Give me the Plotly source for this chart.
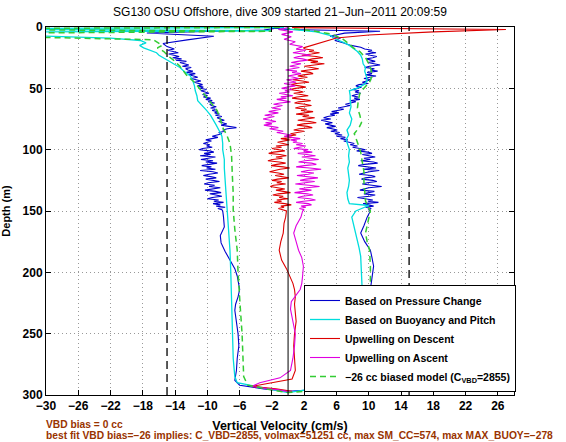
import plotly.graph_objects as go

# ---------------- data ----------------
x_ticks = [-30, -26, -22, -18, -14, -10, -6, -2, 2, 6, 10, 14, 18, 22, 26]
y_ticks = [0, 50, 100, 150, 200, 250, 300]
bias_limits = [-15, 15]      # dashed reference lines (cm/s)
zero_line = [0]              # solid reference line (cm/s)

# common depth samples (m) of the noisy (upper) part of the dive
z_noisy = [18, 19, 20, 21, 22, 23, 24, 25, 26, 27,
           28, 29, 30, 31, 32, 33, 34, 35, 36, 37,
           38, 39, 40, 41, 42, 43, 44, 45, 46, 47,
           48, 49, 50, 51, 52, 53, 54, 55, 56, 57,
           58, 59, 60, 61, 62, 63, 64, 65, 66, 67,
           68, 69, 70, 71, 72, 73, 74, 75, 76, 77,
           78, 79, 80, 81, 82, 83, 84, 85, 86, 87,
           88, 89, 90, 91, 92, 93, 94, 95, 96, 97,
           98, 99, 100, 101, 102, 103, 104, 105, 106, 107,
           108, 109, 110, 111, 112, 113, 114, 115, 116, 117,
           118, 119, 120, 121, 122, 123, 124, 125, 126, 127,
           128, 129, 130, 131, 132, 133, 134, 135, 136, 137,
           138, 139, 140, 141, 142, 143, 144, 145, 146, 147,
           148, 149, 150]

# Based on pressure change (blue) - descent
blue_desc_top_d = [0.5, 2.5, 4.9, 7.6, 10.5, 13.5, 16]
blue_desc_top_v = [-1.0, -3.0, -17.5, -9.2, -12.5, -15.5, -15.0]
blue_desc_mid_v = [-14.1, -14.9, -14.4, -13.6, -14.8, -14.0, -13.5, -14.3, -13.2, -13.9,
                   -12.6, -13.4, -12.9, -12.3, -13.1, -12.0, -12.7, -12.4, -11.8, -12.6,
                   -11.5, -12.3, -11.7, -11.2, -12.0, -11.4, -10.8, -11.6, -11.1, -10.6,
                   -11.2, -10.5, -10.9, -10.1, -10.8, -10.4, -9.8, -10.6, -10.0, -10.5,
                   -9.6, -10.2, -9.4, -9.9, -9.1, -9.7, -9.5, -8.9, -9.6, -9.0,
                   -9.4, -8.7, -9.1, -8.5, -9.0, -8.2, -8.8, -8.4, -7.9, -8.6,
                   -8.0, -7.6, -8.3, -7.2, -6.4, -7.5, -8.1, -7.8, -8.6, -8.2,
                   -8.9, -9.4, -8.7, -9.6, -10.2, -9.5, -10.0, -10.5, -9.7, -10.1,
                   -9.4, -10.6, -11.0, -9.7, -9.2, -10.4, -9.6, -10.9, -9.0, -10.0,
                   -10.8, -9.3, -10.2, -8.8, -9.9, -10.7, -9.5, -10.1, -9.0, -10.9,
                   -9.3, -8.7, -9.8, -10.5, -9.6, -8.9, -10.2, -9.4, -8.5, -9.9,
                   -10.4, -9.1, -9.8, -8.4, -9.5, -10.3, -9.0, -8.3, -9.7, -9.1,
                   -8.2, -9.4, -10.0, -8.6, -9.2, -8.0, -9.3, -8.4, -8.9, -7.8,
                   -8.7, -8.2, -8.1]
blue_desc_deep_d = [155, 163, 170, 176, 183, 190, 197, 203, 209, 214, 220, 226, 231, 240,
                    250, 260, 270, 280, 288, 292, 295, 297]
blue_desc_deep_v = [-8.0, -7.9, -8.4, -8.3, -7.8, -7.2, -6.6, -6.3, -6.1, -6.0, -6.2, -6.5,
                    -6.6, -6.4, -6.2, -6.1, -6.3, -6.4, -6.6, -6.0, -3.0, 0.0]
# Based on pressure change (blue) - ascent
blue_asc_top_d = [0.8, 2.0, 3.5, 5, 7.6, 9, 11, 13, 15, 16.5]
blue_asc_top_v = [-2.0, 0.0, 11.4, 7.0, 5.2, 6.5, 5.8, 6.9, 7.8, 9.0]
blue_asc_mid_v = [9.5, 10.4, 9.9, 10.9, 9.6, 10.2, 11.0, 10.5, 9.7, 10.3,
                  10.8, 9.9, 10.6, 11.4, 10.1, 9.5, 10.7, 10.2, 11.1, 9.8,
                  10.4, 9.6, 10.9, 10.0, 9.4, 10.3, 9.7, 9.2, 9.9, 8.8,
                  8.4, 9.1, 8.6, 8.0, 8.8, 8.3, 9.0, 8.5, 7.9, 8.7,
                  8.2, 8.9, 7.8, 8.4, 7.6, 7.1, 7.7, 6.8, 6.2, 6.9,
                  6.0, 5.4, 6.3, 5.2, 5.8, 4.9, 4.4, 5.3, 4.1, 4.7,
                  5.5, 4.6, 5.0, 5.9, 4.8, 5.6, 6.1, 5.3, 6.4, 5.8,
                  6.7, 6.0, 7.1, 6.5, 7.4, 6.9, 7.6, 8.2, 7.7, 8.6,
                  8.0, 8.9, 9.6, 8.5, 9.9, 10.4, 9.2, 9.7, 10.8, 9.4,
                  10.2, 9.0, 10.6, 11.1, 9.5, 8.7, 10.0, 10.9, 9.3, 11.3,
                  10.1, 9.4, 8.8, 10.3, 10.8, 9.6, 9.1, 10.5, 11.0, 9.8,
                  9.2, 10.4, 11.6, 10.0, 9.5, 8.9, 10.7, 10.2, 9.4, 10.8,
                  10.1, 8.6, 9.7, 10.5, 9.9, 11.2, 9.3, 10.0, 10.6, 9.6,
                  10.3, 10.0, 10.2]
blue_asc_deep_d = [155, 162, 168, 175, 182, 188, 195, 203, 209, 214, 220, 226, 235, 245,
                   255, 265, 275, 285, 290, 294, 296]
blue_asc_deep_v = [9.8, 9.4, 9.0, 9.5, 10.2, 10.4, 10.6, 10.5, 10.3, 10.2, 10.2, 10.3, 10.5,
                   10.7, 10.8, 10.6, 10.4, 10.3, 10.0, 8.0, 3.0]

# Based on buoyancy and pitch (cyan)
cyan_desc_d = [0.3, 1.5, 3.0, 4.5, 9, 11, 13, 15, 17, 19, 21, 23, 25, 27, 30, 33, 36, 40, 44,
               48, 52, 56, 60, 64, 68, 72, 76, 80, 85, 89, 95, 100, 108, 115, 125, 135, 149,
               160, 182, 200, 231, 250, 270, 285, 290, 293, 296, 298]
cyan_desc_v = [-0.5, -45, -2, -45, -22, -18.3, -17.6, -18.4, -17.9, -17.0, -16.3, -16.0,
               -15.5, -15.0, -14.2, -13.4, -12.9, -12.1, -11.8, -11.6, -11.5, -11.3, -11.2,
               -10.6, -10.1, -9.6, -9.3, -8.9, -8.5, -8.2, -8.1, -8.1, -7.9, -7.9, -7.8,
               -7.7, -7.6, -7.4, -7.2, -7.1, -7.0, -6.9, -6.8, -6.6, -6.3, -4.0, -1.5, 0.0]
cyan_asc_d = [0.5, 2, 4, 7, 9, 11, 13, 15, 17, 20, 23, 26, 30, 33, 36, 40, 44, 47, 50, 52,
              56, 60, 65, 70, 75, 80, 84, 88, 92, 96, 100, 105, 110, 115, 120, 125, 130,
              135, 140, 144, 145.5, 150, 155, 160, 171, 180, 187, 195, 209, 220, 230, 245,
              260, 275, 285, 291, 294, 296]
cyan_asc_v = [-1, 0.5, 3.5, 5.3, 5.6, 6.4, 7.0, 7.6, 8.0, 8.6, 9.0, 9.2, 9.3, 9.6, 9.5, 9.7,
              9.8, 9.4, 8.5, 7.6, 7.7, 7.7, 7.8, 7.6, 7.9, 7.7, 7.3, 7.5, 7.2, 7.4, 7.6, 7.5,
              7.6, 7.4, 7.5, 7.6, 7.5, 7.3, 7.4, 7.6, 10.0, 8.4, 7.9, 8.1, 8.5, 8.8, 9.0, 9.1,
              9.2, 9.2, 9.3, 9.4, 9.5, 9.6, 9.6, 9.3, 7.0, 2.0]

# Upwelling on descent (red)
red_top_d = [0.5, 2.0, 4.0, 6.5, 9, 12, 15, 17]
red_top_v = [0.5, 27.0, 18.0, 10.0, 6.0, 4.5, 3.0, 1.9]
red_mid_v = [2.1, 3.2, 2.6, 3.9, 2.9, 1.7, 3.5, 4.3, 3.0, 2.4,
             3.7, 2.8, 4.5, 3.3, 2.0, 2.9, 3.8, 2.5, 1.6, 2.7,
             3.1, 1.9, 1.2, 2.4, 1.5, 0.6, 1.8, 2.6, 1.0, 0.4,
             1.4, 2.2, 0.9, 0.2, 1.3, 1.9, 0.7, 1.6, 2.5, 1.1,
             0.5, 1.7, 2.8, 1.3, 0.8, 2.1, 2.9, 1.5, 0.9, 2.3,
             1.6, 3.1, 2.2, 1.0, 2.6, 1.8, 3.3, 2.0, 1.2, 2.7,
             3.5, 1.9, 1.1, 2.4, 3.0, 1.4, 0.7, 2.0, 1.2, 0.3,
             1.0, -0.2, 0.5, -0.9, 0.2, -0.4, -1.3, -0.6, 0.1, -1.5,
             -0.8, -2.0, -1.2, -0.4, -1.8, -2.4, -1.0, -0.2, -1.5, -0.7,
             -1.9, -2.5, -1.1, -0.3, -1.4, -2.1, -0.6, 0.2, -1.0, -1.7,
             -2.3, -1.2, -0.5, -1.6, -0.9, 0.1, -1.3, -2.0, -0.8, -1.4,
             -0.3, -1.8, -2.2, -1.0, -0.4, -1.5, -0.7, 0.3, -1.2, -1.9,
             -0.6, -1.1, 0.0, -1.4, -0.8, -1.7, -0.4, 0.4, -0.9, -0.5,
             -1.2, -0.6, -0.2]
red_deep_d = [155, 160, 168, 175, 182, 190, 197, 203, 209, 214, 220, 226, 231, 240, 250,
              260, 270, 280, 287, 290, 293, 295, 297]
red_deep_v = [-0.3, -0.5, -0.6, -0.9, -1.1, -0.8, -0.2, 0.2, 0.6, 0.8, 0.9, 0.8, 0.9, 1.0,
              0.8, 0.7, 0.8, 0.9, 0.5, -2.0, -4.5, -1.5, 0.5]

# Upwelling on ascent (magenta)
mag_top_d = [0.5, 2, 4, 6, 8, 10, 12, 14, 16]
mag_top_v = [0.0, -1.2, 0.6, -0.8, 0.4, -0.5, 0.9, 0.2, 1.8]
mag_mid_v = [1.0, 2.2, 1.5, 0.6, 1.9, 2.8, 1.3, 0.7, 1.8, 2.4,
             1.2, 0.4, 1.6, 0.9, 0.2, 1.4, 0.6, -0.3, 1.1, 0.5,
             1.6, 0.8, 0.0, 0.7, 1.3, -0.2, 0.4, 1.0, -0.5, 0.3,
             0.9, -0.1, -0.8, 0.5, -0.4, 0.2, -1.1, -0.3, 0.6, -0.9,
             -0.2, -1.4, -0.6, 0.3, -1.0, -1.8, -0.7, -1.3, -2.0, -0.9,
             -1.6, -2.4, -1.2, -2.0, -2.9, -1.7, -2.5, -3.1, -2.2, -1.5,
             -2.8, -2.0, -3.0, -1.9, -1.2, -2.3, -1.5, -0.6, -1.4, -0.2,
             0.4, -0.5, 0.8, 1.5, 0.3, 1.1, 0.6, 1.8, 1.0, 2.2,
             1.4, 0.7, 2.5, 1.9, 3.0, 1.2, 2.3, 3.4, 1.7, 2.6,
             3.8, 2.1, 1.3, 2.9, 3.5, 2.0, 1.0, 2.7, 4.1, 2.4,
             1.6, 3.2, 2.5, 1.1, 2.8, 3.7, 2.2, 1.5, 3.3, 2.0,
             0.9, 2.6, 3.9, 2.3, 1.4, 2.9, 2.1, 0.8, 2.4, 3.1,
             1.8, 1.2, 2.7, 3.4, 1.9, 1.0, 2.5, 2.9, 1.6, 2.2,
             1.4, 2.0, 1.8]
mag_deep_d = [155, 162, 168, 175, 182, 188, 195, 203, 209, 214, 219, 224, 230, 240, 250,
              260, 270, 280, 286, 290, 293, 296, 298]
mag_deep_v = [1.6, 1.0, 0.7, 1.0, 1.3, 1.7, 1.9, 1.8, 1.7, 1.5, 1.0, 0.4, 0.3, 0.6, 0.9,
              0.8, 0.6, 0.3, -1.0, -3.5, -4.5, -1.0, 0.5]

# -26 cc biased model (green dashed)
green_desc_d = [0.3, 1.6, 3.5, 5.7, 10.4, 13, 15, 17, 20, 24, 27, 32, 36, 40, 45, 50, 54, 60,
                68, 75, 82, 88, 95, 105, 115, 122, 135, 149, 165, 182, 200, 214, 231, 250,
                270, 285, 292, 296, 298]
green_desc_v = [-1, -50, -2, -50, -16.7, -16.0, -15.6, -16.2, -15.4, -14.8, -14.2, -13.4,
                -12.9, -12.5, -11.6, -11.0, -10.5, -9.7, -8.8, -8.4, -8.1, -7.6, -7.2, -7.0,
                -6.9, -6.9, -6.8, -6.8, -6.6, -6.3, -6.2, -6.1, -5.9, -5.7, -5.6, -5.5, -5.0,
                -2.0, 0.0]
green_asc_d = [1, 3, 6, 10, 14, 17, 20, 25, 30, 35, 40, 45, 50, 54, 60, 66, 72, 78, 82, 87,
               92, 96, 102, 110, 118, 126, 134, 142, 150, 160, 168, 175, 182, 195, 209, 218,
               224, 235, 250, 265, 280, 290, 294, 296]
green_asc_v = [0, 3, 5.5, 6.8, 7.6, 8.1, 8.9, 9.6, 10.0, 10.3, 10.4, 10.1, 9.4, 8.9, 8.7,
               8.6, 8.9, 9.1, 8.8, 8.2, 8.5, 8.7, 9.0, 9.2, 9.4, 9.4, 9.5, 9.6, 10.2, 9.9,
               9.6, 9.8, 10.1, 10.2, 10.2, 10.6, 11.4, 11.6, 11.7, 11.8, 11.8, 11.6, 9.0, 4.0]

series_names = ["Based on Pressure Change", "Based on Buoyancy and Pitch",
                "Upwelling on Descent", "Upwelling on Ascent",
                "\u221226 cc biased model (C<sub>VBD</sub>=2855)"]

title_text = "SG130 OSU Offshore, dive 309 started 21\u2212Jun\u22122011 20:09:59"
note1 = "VBD bias = 0 cc"
note2 = ("best fit VBD bias=\u221226 implies: C_VBD=2855, volmax=51251 cc, "
         "max SM_CC=574, max MAX_BUOY=\u2212278")

# ---------------- assemble ----------------
blue_desc_d = blue_desc_top_d + z_noisy + blue_desc_deep_d
blue_desc_v = blue_desc_top_v + blue_desc_mid_v + blue_desc_deep_v
blue_asc_d = blue_asc_top_d + z_noisy + blue_asc_deep_d
blue_asc_v = blue_asc_top_v + blue_asc_mid_v + blue_asc_deep_v
red_d = red_top_d + z_noisy + red_deep_d
red_v = red_top_v + red_mid_v + red_deep_v
mag_d = mag_top_d + z_noisy + mag_deep_d
mag_v = mag_top_v + mag_mid_v + mag_deep_v

FONT = "Liberation Sans, Arial, Helvetica, sans-serif"
W, H = 566, 442

fig = go.Figure()
fig.add_trace(go.Scatter(x=blue_desc_v + blue_asc_v[::-1], y=blue_desc_d + blue_asc_d[::-1],
                         mode="lines", name=series_names[0],
                         line=dict(color="#0000CC", width=1.1)))
fig.add_trace(go.Scatter(x=cyan_desc_v + cyan_asc_v[::-1], y=cyan_desc_d + cyan_asc_d[::-1],
                         mode="lines", name=series_names[1],
                         line=dict(color="#00DDDD", width=1.3)))
fig.add_trace(go.Scatter(x=red_v, y=red_d, mode="lines", name=series_names[2],
                         line=dict(color="#DD0000", width=1.1)))
fig.add_trace(go.Scatter(x=mag_v, y=mag_d, mode="lines", name=series_names[3],
                         line=dict(color="#E000E0", width=1.1)))
fig.add_trace(go.Scatter(x=green_desc_v + green_asc_v[::-1], y=green_desc_d + green_asc_d[::-1],
                         mode="lines", name=series_names[4],
                         line=dict(color="#33CC33", width=1.5, dash="6px,4px")))

for xv in bias_limits:
    fig.add_shape(type="line", xref="x", yref="paper", x0=xv, x1=xv, y0=0, y1=1,
                  line=dict(color="black", width=1.3, dash="8px,5px"), layer="above")
for xv in zero_line:
    fig.add_shape(type="line", xref="x", yref="paper", x0=xv, x1=xv, y0=0, y1=1,
                  line=dict(color="black", width=1), layer="above")

axis_common = dict(showgrid=True, gridcolor="#999999", griddash="1px,3px", gridwidth=1,
                   zeroline=False, showline=True, linecolor="black", linewidth=1,
                   mirror="ticks", ticks="inside", ticklen=5, tickcolor="black",
                   tickfont=dict(family=FONT, size=12, color="black", weight="bold"))

fig.update_layout(
    width=W, height=H,
    margin=dict(l=46, r=52, t=27, b=47, autoexpand=False),
    paper_bgcolor="white", plot_bgcolor="white",
    font=dict(family=FONT, color="black"),
    hovermode=False,
    title=dict(text=title_text, x=280 / W, xanchor="center", y=1 - 12 / H,
               yanchor="middle", font=dict(family=FONT, size=12, color="black")),
    xaxis=dict(range=[-30, 28], tickmode="array", tickvals=x_ticks,
               ticktext=[str(t).replace("-", "\u2212") for t in x_ticks],
               automargin=True,
               title=dict(text="Vertical Velocity (cm/s)", standoff=8,
                          font=dict(family=FONT, size=12.5, weight="bold")),
               **axis_common),
    yaxis=dict(range=[300, 0], tickmode="array", tickvals=y_ticks,
               automargin=False,
               title=dict(text="Depth (m)",
                          font=dict(family=FONT, size=11, weight="bold")),
               **axis_common),
    legend=dict(x=(304 - 46) / 468, y=(395 - 392) / 368, xanchor="left", yanchor="bottom",
                bgcolor="white", bordercolor="black", borderwidth=1,
                font=dict(family=FONT, size=10.5, color="black", weight="bold"),
                tracegroupgap=0, itemwidth=30),
    showlegend=True,
)

fig.add_annotation(text=note1, xref="paper", yref="paper", x=-0.004, y=(395 - 424) / 368,
                   xanchor="left", yanchor="middle", showarrow=False,
                   font=dict(family=FONT, size=10.25, color="#993300", weight="bold"))
fig.add_annotation(text=note2, xref="paper", yref="paper", x=-0.004, y=(395 - 436) / 368,
                   xanchor="left", yanchor="middle", showarrow=False,
                   font=dict(family=FONT, size=10.25, color="#993300", weight="bold"))

# remove the browser's default 8px body margin so the figure sits at the page origin
fig.write_html("out.html", config={"displayModeBar": False},
               post_script="document.body.style.margin='0px';")
